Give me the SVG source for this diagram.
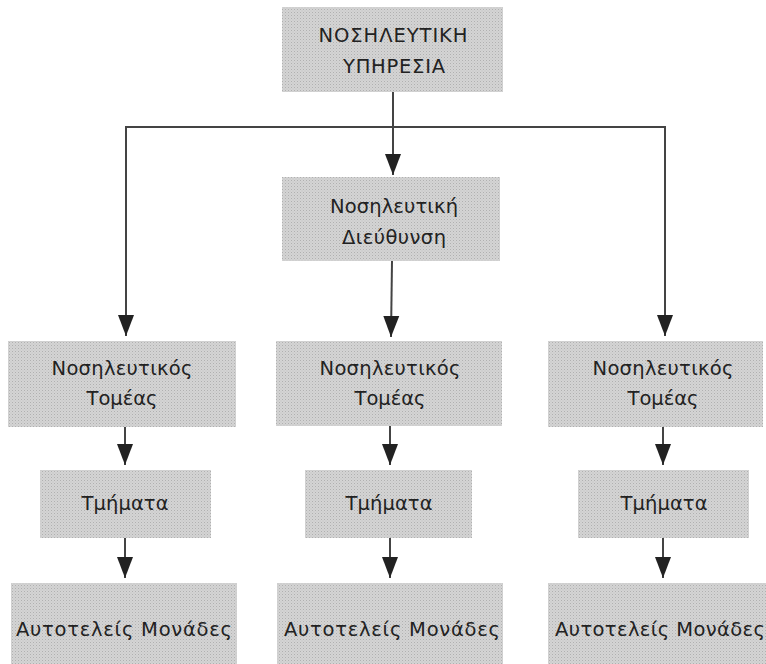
<svg xmlns="http://www.w3.org/2000/svg" width="766" height="664" viewBox="0 0 766 664">
<defs>
<pattern id="dots" width="3" height="3" patternUnits="userSpaceOnUse">
<rect width="3" height="3" fill="#d4d4d4"/>
<rect width="1" height="1" fill="#b0b0b0"/>
<rect x="1.5" y="1.5" width="1" height="1" fill="#c0c0c0"/>
</pattern>
<marker id="arr" markerUnits="userSpaceOnUse" markerWidth="22" markerHeight="18" viewBox="0 0 22 18" refX="21" refY="9" orient="auto">
<path d="M0,1 L21,9 L0,17 Z" fill="#222"/>
</marker>
</defs>
<style>
.box{fill:url(#dots);}
.t{font-family:"DejaVu Sans","Liberation Sans",Arial,sans-serif;font-size:19.5px;fill:#222;text-anchor:middle;}
.c{fill:none;stroke:#444;stroke-width:2;}
.a{fill:none;stroke:#444;stroke-width:2;marker-end:url(#arr);}
</style>
<rect width="766" height="664" fill="#ffffff"/>
<g id="connectors">
<line class="c" x1="125" y1="127" x2="666" y2="127"/>
<line class="a" x1="393" y1="92" x2="393" y2="175"/>
<line class="a" x1="126" y1="127" x2="126" y2="336"/>
<line class="a" x1="665" y1="127" x2="665" y2="336"/>
<line class="a" x1="392" y1="261" x2="391" y2="337"/>
<line class="a" x1="125" y1="427" x2="125" y2="465"/>
<line class="a" x1="390" y1="426" x2="390" y2="465"/>
<line class="a" x1="663" y1="427" x2="663" y2="465"/>
<line class="a" x1="125" y1="538" x2="125" y2="578"/>
<line class="a" x1="390" y1="538" x2="390" y2="578"/>
<line class="a" x1="663" y1="538" x2="663" y2="578"/>
</g>
<g id="n-top">
<rect class="box" x="282" y="7" width="221" height="85"/>
<text class="t" x="393" y="42" textLength="149">ΝΟΣΗΛΕΥΤΙΚΗ</text>
<text class="t" x="394" y="73" textLength="102">ΥΠΗΡΕΣΙΑ</text>
</g>
<g id="n-dir">
<rect class="box" x="282" y="177" width="218" height="84"/>
<text class="t" x="394" y="213" textLength="128">Νοσηλευτική</text>
<text class="t" x="394" y="244" textLength="104">Διεύθυνση</text>
</g>
<g id="n-tomeas-left">
<rect class="box" x="8" y="341" width="228" height="86"/>
<text class="t" x="122" y="375" textLength="141">Νοσηλευτικός</text>
<text class="t" x="122" y="405" textLength="71">Τομέας</text>
</g>
<g id="n-tomeas-mid">
<rect class="box" x="276" y="341" width="226" height="85"/>
<text class="t" x="390" y="375" textLength="141">Νοσηλευτικός</text>
<text class="t" x="390" y="405" textLength="71">Τομέας</text>
</g>
<g id="n-tomeas-right">
<rect class="box" x="548" y="341" width="215" height="86"/>
<text class="t" x="663" y="375" textLength="141">Νοσηλευτικός</text>
<text class="t" x="663" y="405" textLength="71">Τομέας</text>
</g>
<g id="n-tmimata-left">
<rect class="box" x="40" y="470" width="171" height="68"/>
<text class="t" x="125" y="510" textLength="87">Τμήματα</text>
</g>
<g id="n-tmimata-mid">
<rect class="box" x="305" y="470" width="167" height="68"/>
<text class="t" x="389" y="510" textLength="87">Τμήματα</text>
</g>
<g id="n-tmimata-right">
<rect class="box" x="578" y="470" width="171" height="68"/>
<text class="t" x="664" y="510" textLength="87">Τμήματα</text>
</g>
<g id="n-monades-left">
<rect class="box" x="11" y="583" width="226" height="81"/>
<text class="t" x="124" y="636" textLength="216">Αυτοτελείς Μονάδες</text>
</g>
<g id="n-monades-mid">
<rect class="box" x="277" y="583" width="226" height="81"/>
<text class="t" x="392" y="636" textLength="216">Αυτοτελείς Μονάδες</text>
</g>
<g id="n-monades-right">
<rect class="box" x="548" y="583" width="218" height="81"/>
<text class="t" x="660" y="636" textLength="210">Αυτοτελείς Μονάδες</text>
</g>
</svg>
